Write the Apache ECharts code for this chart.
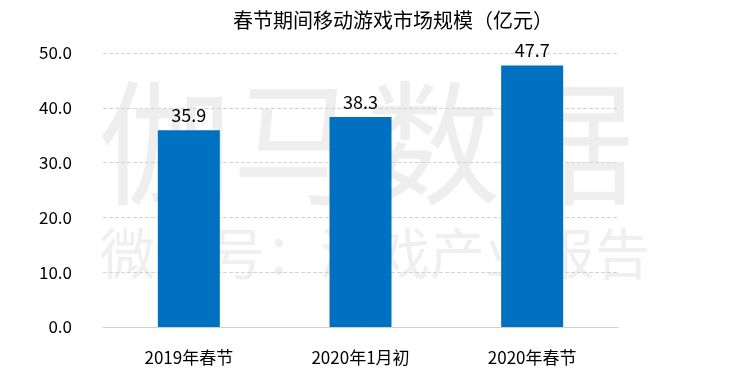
<!DOCTYPE html>
<html><head><meta charset="utf-8">
<script src="https://cdn.jsdelivr.net/npm/echarts@6/dist/echarts.min.js"></script>
<style>html,body{margin:0;padding:0;background:#fff}#c{width:752px;height:382px}</style>
</head><body><div id="c"></div>
<script>
const titleText = '春节期间移动游戏市场规模（亿元）';
const categories = ['2019年春节', '2020年1月初', '2020年春节'];
const values = [35.9, 38.3, 47.7];
const yTicks = [0, 10, 20, 30, 40, 50];
const wm1 = '伽马数据';
const wm2 = '微信号：游戏产业报告';

const font = '"Microsoft YaHei","Noto Sans CJK SC",sans-serif';
const chart = echarts.init(document.getElementById('c'));
chart.setOption({
  animation: false,
  title: { text: titleText, left: 388, top: 5, textAlign: 'center',
    textStyle: { fontFamily: font, fontSize: 20, fontWeight: 'normal', color: '#000' } },
  graphic: [
    { type: 'text', left: 98, top: 76, z: 0, style: { text: wm1, font: '134px ' + font, fill: '#eeeeee' } },
    { type: 'text', left: 100, top: 226, z: 0, style: { text: wm2, font: '55px ' + font, fill: '#efefef' } }
  ],
  grid: { left: 103, right: 134, top: 53, bottom: 55 },
  xAxis: { type: 'category', data: categories,
    axisLine: { lineStyle: { color: '#d0d0d0', width: 1 } }, axisTick: { show: false },
    axisLabel: { margin: 22, fontFamily: font, fontSize: 17, color: '#000' } },
  yAxis: { type: 'value', min: yTicks[0], max: yTicks[yTicks.length - 1], interval: 10,
    axisLine: { show: false }, axisTick: { show: false },
    splitLine: { lineStyle: { type: 'dashed', color: '#d4d4d4' } },
    axisLabel: { margin: 31, fontFamily: font, fontSize: 17, color: '#000', formatter: v => v.toFixed(1) } },
  series: [{ type: 'bar', data: values, barWidth: 62, z: 5,
    itemStyle: { color: '#0070c0' },
    label: { show: true, position: 'top', distance: 6, fontFamily: font, fontSize: 18, color: '#000',
      formatter: p => p.value.toFixed(1) } }]
});
</script></body></html>
